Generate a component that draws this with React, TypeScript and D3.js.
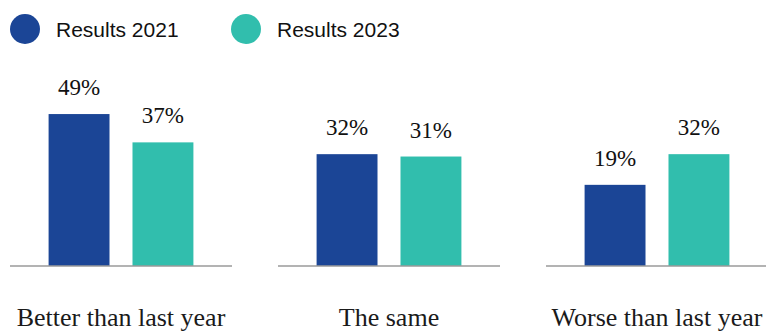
import React from "react";
import * as d3 from "d3";

const categories = ["Better than last year", "The same", "Worse than last year"];
const seriesNames = ["Results 2021", "Results 2023"];
const results2021 = [49, 32, 19];
const results2023 = [37, 31, 32];
const seriesColors = ["#1b4596", "#31bead"];

const W = 766;
const H = 332;
const BASE = 266;

export default function App() {
  const seriesValues = [results2021, results2023];
  const x0 = d3.scaleBand<string>().domain(categories).range([10, 768]).paddingInner(46 / 268);
  const x1 = d3
    .scaleBand<string>()
    .domain(seriesNames)
    .range([0, x0.bandwidth()])
    .paddingInner(0.274)
    .paddingOuter(0.46);
  const y = d3.scaleLinear().domain([-15.4, 50]).range([BASE, 111.7]);

  return (
    <svg
      width={W}
      height={H}
      style={{ position: "absolute", left: 0, top: 0, background: "#fff" }}
    >
      {/* legend */}
      {seriesNames.map((s, i) => {
        const cx = i === 0 ? 25 : 246;
        return (
          <g key={s}>
            <circle cx={cx} cy={29} r={15} fill={seriesColors[i]} />
            <text
              x={cx + 31}
              y={36.5}
              fontFamily="'Liberation Sans', Arial, sans-serif"
              fontSize={21}
              fill="#111"
            >
              {s}
            </text>
          </g>
        );
      })}
      {categories.map((c, ci) => {
        const gx = x0(c)!;
        return (
          <g key={c} transform={`translate(${gx},0)`}>
            {seriesNames.map((s, si) => {
              const v = seriesValues[si][ci];
              const bx = x1(s)!;
              return (
                <g key={s}>
                  <rect
                    x={bx}
                    y={y(v)}
                    width={x1.bandwidth()}
                    height={BASE - y(v)}
                    fill={seriesColors[si]}
                  />
                  <text
                    x={bx + x1.bandwidth() / 2}
                    y={y(v) - 19}
                    textAnchor="middle"
                    fontFamily="'Liberation Serif', 'Times New Roman', serif"
                    fontSize={23}
                    fill="#111"
                  >
                    {v}%
                  </text>
                </g>
              );
            })}
            <line
              x1={0}
              x2={x0.bandwidth()}
              y1={BASE}
              y2={BASE}
              stroke="#9a9a9a"
              strokeWidth={1.6}
            />
            <text
              x={x0.bandwidth() / 2}
              y={325.5}
              textAnchor="middle"
              fontFamily="'Liberation Serif', 'Times New Roman', serif"
              fontSize={26}
              fill="#1a1a1a"
            >
              {c}
            </text>
          </g>
        );
      })}
    </svg>
  );
}
